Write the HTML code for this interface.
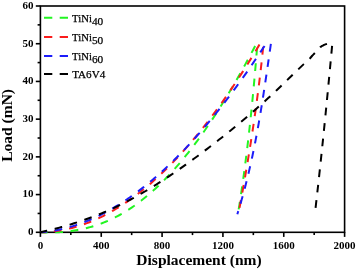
<!DOCTYPE html>
<html><head><meta charset="utf-8"><style>
html,body{margin:0;padding:0;background:#fff;}
svg{display:block;filter:blur(0.35px);}
.tk{font-family:"Liberation Serif",serif;font-weight:bold;font-size:11px;fill:#000;}
.ax{font-family:"Liberation Serif",serif;font-weight:bold;font-size:15.5px;fill:#000;}
.lg{font-family:"Liberation Serif",serif;font-size:10.7px;fill:#000;stroke:#000;stroke-width:0.25px;}
</style></head><body>
<svg width="357" height="270" viewBox="0 0 357 270">
<rect x="40.4" y="6.0" width="304.20" height="226.30" fill="none" stroke="#000" stroke-width="1.6"/>
<path d="M40.40,232.30 L41.95,232.36 L43.51,232.40 L45.06,232.43 L46.61,232.45 L48.17,232.46 L49.72,232.46 L51.27,232.44 L52.83,232.42 L54.38,232.37 L55.93,232.32 L57.49,232.25 L59.04,232.17 L60.59,232.07 L62.15,231.96 L63.70,231.83 L65.25,231.69 L66.81,231.53 L68.36,231.36 L69.91,231.17 L71.46,230.96 L73.02,230.74 L74.57,230.50 L76.12,230.24 L77.68,229.97 L79.23,229.68 L80.78,229.37 L82.34,229.04 L83.89,228.70 L85.44,228.33 L87.00,227.95 L88.55,227.54 L90.10,227.12 L91.66,226.68 L93.21,226.22 L94.76,225.73 L96.32,225.23 L97.87,224.71 L99.42,224.16 L100.98,223.59 L102.53,223.00 L104.08,222.39 L105.64,221.76 L107.19,221.10 L108.74,220.42 L110.30,219.72 L111.85,219.00 L113.40,218.25 L114.96,217.47 L116.51,216.67 L118.06,215.85 L119.62,215.00 L121.17,214.13 L122.72,213.24 L124.27,212.31 L125.83,211.37 L127.38,210.40 L128.93,209.40 L130.49,208.38 L132.04,207.33 L133.59,206.26 L135.15,205.17 L136.70,204.05 L138.25,202.90 L139.81,201.73 L141.36,200.53 L142.91,199.31 L144.47,198.07 L146.02,196.80 L147.57,195.50 L149.13,194.18 L150.68,192.84 L152.23,191.47 L153.79,190.07 L155.34,188.65 L156.89,187.21 L158.45,185.74 L160.00,184.24 L161.55,182.72 L163.11,181.18 L164.66,179.61 L166.21,178.01 L167.77,176.39 L169.32,174.74 L170.87,173.07 L172.43,171.38 L173.98,169.66 L175.53,167.91 L177.08,166.14 L178.64,164.34 L180.19,162.52 L181.74,160.68 L183.30,158.81 L184.85,156.91 L186.40,154.99 L187.96,153.05 L189.51,151.07 L191.06,149.08 L192.62,147.06 L194.17,145.02 L195.72,142.95 L197.28,140.86 L198.83,138.74 L200.38,136.60 L201.94,134.43 L203.49,132.24 L205.04,130.03 L206.60,127.79 L208.15,125.52 L209.70,123.24 L211.26,120.93 L212.81,118.59 L214.36,116.23 L215.92,113.85 L217.47,111.44 L219.02,109.01 L220.58,106.56 L222.13,104.08 L223.68,101.58 L225.24,99.06 L226.79,96.51 L228.34,93.94 L229.89,91.35 L231.45,88.73 L233.00,86.09 L234.55,83.42 L236.11,80.73 L237.66,78.02 L239.21,75.29 L240.77,72.53 L242.32,69.75 L243.87,66.95 L245.43,64.13 L246.98,61.28 L248.53,58.41 L250.09,55.51 L251.64,52.60 L253.19,49.66 L254.75,46.70 L256.30,43.72 L257.40,43.72 L257.23,45.82 L257.07,47.91 L256.90,50.01 L256.73,52.11 L256.55,54.21 L256.38,56.31 L256.21,58.41 L256.03,60.50 L255.85,62.60 L255.68,64.70 L255.50,66.80 L255.32,68.90 L255.13,71.00 L254.95,73.10 L254.76,75.19 L254.58,77.29 L254.39,79.39 L254.20,81.49 L254.01,83.59 L253.82,85.69 L253.62,87.79 L253.42,89.88 L253.23,91.98 L253.03,94.08 L252.83,96.18 L252.62,98.28 L252.42,100.38 L252.21,102.48 L252.00,104.57 L251.79,106.67 L251.58,108.77 L251.37,110.87 L251.15,112.97 L250.93,115.07 L250.71,117.16 L250.49,119.26 L250.27,121.36 L250.04,123.46 L249.81,125.56 L249.58,127.66 L249.35,129.76 L249.11,131.85 L248.88,133.95 L248.64,136.05 L248.40,138.15 L248.15,140.25 L247.91,142.35 L247.66,144.45 L247.41,146.54 L247.16,148.64 L246.90,150.74 L246.64,152.84 L246.38,154.94 L246.12,157.04 L245.85,159.14 L245.59,161.23 L245.32,163.33 L245.04,165.43 L244.77,167.53 L244.49,169.63 L244.21,171.73 L243.93,173.83 L243.64,175.92 L243.35,178.02 L243.06,180.12 L242.76,182.22 L242.47,184.32 L242.17,186.42 L241.86,188.51 L241.56,190.61 L241.25,192.71 L240.93,194.81 L240.62,196.91 L240.30,199.01 L239.98,201.11 L239.66,203.20 L239.33,205.30 L239.00,207.40 L238.66,209.50" fill="none" stroke="#22f522" stroke-width="2.0" stroke-dasharray="7.75 7.75" stroke-dashoffset="0.7" stroke-linejoin="round"/>
<path d="M40.40,232.30 L41.98,232.26 L43.56,232.21 L45.14,232.14 L46.72,232.05 L48.30,231.93 L49.88,231.80 L51.46,231.65 L53.04,231.48 L54.62,231.29 L56.20,231.08 L57.78,230.85 L59.36,230.61 L60.94,230.34 L62.52,230.05 L64.10,229.74 L65.68,229.42 L67.26,229.07 L68.84,228.71 L70.42,228.32 L72.00,227.92 L73.58,227.49 L75.16,227.05 L76.74,226.59 L78.32,226.11 L79.90,225.61 L81.48,225.09 L83.06,224.55 L84.64,223.99 L86.22,223.41 L87.80,222.81 L89.38,222.20 L90.96,221.56 L92.54,220.90 L94.12,220.23 L95.69,219.53 L97.27,218.82 L98.85,218.09 L100.43,217.34 L102.01,216.57 L103.59,215.77 L105.17,214.97 L106.75,214.14 L108.33,213.29 L109.91,212.42 L111.49,211.53 L113.07,210.63 L114.65,209.70 L116.23,208.76 L117.81,207.80 L119.39,206.81 L120.97,205.81 L122.55,204.79 L124.13,203.75 L125.71,202.69 L127.29,201.62 L128.87,200.52 L130.45,199.40 L132.03,198.27 L133.61,197.11 L135.19,195.94 L136.77,194.75 L138.35,193.53 L139.93,192.30 L141.51,191.05 L143.09,189.79 L144.67,188.50 L146.25,187.19 L147.83,185.87 L149.41,184.52 L150.99,183.16 L152.57,181.77 L154.15,180.37 L155.73,178.95 L157.31,177.51 L158.89,176.05 L160.47,174.58 L162.05,173.08 L163.63,171.56 L165.21,170.03 L166.79,168.48 L168.37,166.91 L169.95,165.32 L171.53,163.71 L173.11,162.08 L174.69,160.43 L176.27,158.76 L177.85,157.08 L179.43,155.37 L181.01,153.65 L182.59,151.91 L184.17,150.15 L185.75,148.37 L187.33,146.57 L188.91,144.76 L190.49,142.92 L192.07,141.07 L193.65,139.19 L195.23,137.30 L196.81,135.39 L198.39,133.46 L199.97,131.51 L201.55,129.55 L203.13,127.56 L204.71,125.56 L206.28,123.54 L207.86,121.49 L209.44,119.43 L211.02,117.36 L212.60,115.26 L214.18,113.14 L215.76,111.01 L217.34,108.86 L218.92,106.68 L220.50,104.49 L222.08,102.28 L223.66,100.06 L225.24,97.81 L226.82,95.55 L228.40,93.26 L229.98,90.96 L231.56,88.64 L233.14,86.30 L234.72,83.94 L236.30,81.57 L237.88,79.17 L239.46,76.76 L241.04,74.33 L242.62,71.88 L244.20,69.41 L245.78,66.92 L247.36,64.42 L248.94,61.90 L250.52,59.35 L252.10,56.79 L253.68,54.21 L255.26,51.62 L256.84,49.00 L258.42,46.37 L260.00,43.72 L263.50,43.72 L263.30,45.80 L263.09,47.89 L262.88,49.97 L262.66,52.06 L262.45,54.15 L262.23,56.23 L262.00,58.32 L261.78,60.40 L261.55,62.49 L261.32,64.58 L261.08,66.66 L260.85,68.75 L260.61,70.83 L260.36,72.92 L260.12,75.00 L259.87,77.09 L259.62,79.18 L259.36,81.26 L259.11,83.35 L258.85,85.43 L258.59,87.52 L258.32,89.61 L258.05,91.69 L257.78,93.78 L257.51,95.86 L257.24,97.95 L256.96,100.04 L256.68,102.12 L256.39,104.21 L256.11,106.29 L255.82,108.38 L255.53,110.46 L255.24,112.55 L254.94,114.64 L254.64,116.72 L254.34,118.81 L254.04,120.89 L253.74,122.98 L253.43,125.07 L253.12,127.15 L252.81,129.24 L252.49,131.32 L252.18,133.41 L251.86,135.49 L251.54,137.58 L251.21,139.67 L250.89,141.75 L250.56,143.84 L250.23,145.92 L249.90,148.01 L249.56,150.10 L249.22,152.18 L248.89,154.27 L248.54,156.35 L248.20,158.44 L247.86,160.53 L247.51,162.61 L247.16,164.70 L246.81,166.78 L246.46,168.87 L246.10,170.95 L245.74,173.04 L245.39,175.13 L245.02,177.21 L244.66,179.30 L244.30,181.38 L243.93,183.47 L243.56,185.56 L243.19,187.64 L242.82,189.73 L242.45,191.81 L242.07,193.90 L241.69,195.98 L241.31,198.07 L240.93,200.16 L240.55,202.24 L240.17,204.33 L239.78,206.41 L239.39,208.50" fill="none" stroke="#fa1c1c" stroke-width="2.0" stroke-dasharray="7.75 7.75" stroke-dashoffset="2.0" stroke-linejoin="round"/>
<path d="M40.40,232.30 L42.02,232.17 L43.65,232.02 L45.27,231.86 L46.89,231.67 L48.52,231.47 L50.14,231.24 L51.76,231.00 L53.38,230.74 L55.01,230.46 L56.63,230.16 L58.25,229.84 L59.88,229.50 L61.50,229.14 L63.12,228.77 L64.75,228.37 L66.37,227.96 L67.99,227.53 L69.61,227.07 L71.24,226.60 L72.86,226.12 L74.48,225.61 L76.11,225.08 L77.73,224.54 L79.35,223.98 L80.98,223.39 L82.60,222.79 L84.22,222.18 L85.84,221.54 L87.47,220.88 L89.09,220.21 L90.71,219.52 L92.34,218.81 L93.96,218.08 L95.58,217.33 L97.21,216.57 L98.83,215.78 L100.45,214.98 L102.07,214.16 L103.70,213.33 L105.32,212.47 L106.94,211.60 L108.57,210.70 L110.19,209.80 L111.81,208.87 L113.44,207.92 L115.06,206.96 L116.68,205.98 L118.31,204.98 L119.93,203.96 L121.55,202.93 L123.17,201.88 L124.80,200.81 L126.42,199.72 L128.04,198.61 L129.67,197.49 L131.29,196.35 L132.91,195.19 L134.54,194.02 L136.16,192.83 L137.78,191.62 L139.40,190.39 L141.03,189.14 L142.65,187.88 L144.27,186.60 L145.90,185.31 L147.52,183.99 L149.14,182.66 L150.77,181.31 L152.39,179.95 L154.01,178.56 L155.63,177.17 L157.26,175.75 L158.88,174.32 L160.50,172.86 L162.13,171.40 L163.75,169.91 L165.37,168.41 L167.00,166.89 L168.62,165.36 L170.24,163.81 L171.86,162.24 L173.49,160.65 L175.11,159.05 L176.73,157.43 L178.36,155.80 L179.98,154.15 L181.60,152.48 L183.23,150.79 L184.85,149.09 L186.47,147.38 L188.09,145.64 L189.72,143.89 L191.34,142.12 L192.96,140.34 L194.59,138.54 L196.21,136.73 L197.83,134.89 L199.46,133.05 L201.08,131.18 L202.70,129.30 L204.33,127.41 L205.95,125.49 L207.57,123.56 L209.19,121.62 L210.82,119.66 L212.44,117.68 L214.06,115.69 L215.69,113.68 L217.31,111.66 L218.93,109.62 L220.56,107.56 L222.18,105.49 L223.80,103.40 L225.42,101.30 L227.05,99.18 L228.67,97.05 L230.29,94.90 L231.92,92.73 L233.54,90.55 L235.16,88.35 L236.79,86.14 L238.41,83.92 L240.03,81.67 L241.65,79.41 L243.28,77.14 L244.90,74.85 L246.52,72.55 L248.15,70.23 L249.77,67.89 L251.39,65.54 L253.02,63.18 L254.64,60.80 L256.26,58.40 L257.88,55.99 L259.51,53.57 L261.13,51.13 L262.75,48.67 L264.38,46.20 L266.00,43.72 L270.90,43.72 L270.59,45.87 L270.28,48.03 L269.97,50.19 L269.66,52.35 L269.35,54.51 L269.04,56.66 L268.73,58.82 L268.41,60.98 L268.10,63.14 L267.79,65.30 L267.48,67.45 L267.16,69.61 L266.85,71.77 L266.53,73.93 L266.22,76.09 L265.90,78.24 L265.58,80.40 L265.26,82.56 L264.94,84.72 L264.61,86.88 L264.28,89.04 L263.95,91.19 L263.62,93.35 L263.29,95.51 L262.95,97.67 L262.61,99.83 L262.27,101.98 L261.93,104.14 L261.58,106.30 L261.23,108.46 L260.87,110.62 L260.51,112.77 L260.15,114.93 L259.79,117.09 L259.42,119.25 L259.04,121.41 L258.67,123.56 L258.28,125.72 L257.90,127.88 L257.51,130.04 L257.11,132.20 L256.71,134.35 L256.31,136.51 L255.90,138.67 L255.48,140.83 L255.06,142.99 L254.63,145.14 L254.20,147.30 L253.76,149.46 L253.32,151.62 L252.87,153.78 L252.42,155.93 L251.96,158.09 L251.49,160.25 L251.01,162.41 L250.53,164.57 L250.04,166.72 L249.55,168.88 L249.05,171.04 L248.54,173.20 L248.02,175.36 L247.50,177.51 L246.97,179.67 L246.43,181.83 L245.88,183.99 L245.33,186.15 L244.76,188.30 L244.19,190.46 L243.61,192.62 L243.03,194.78 L242.43,196.94 L241.82,199.09 L241.21,201.25 L240.59,203.41 L239.96,205.57 L239.31,207.73 L238.66,209.88 L238.00,212.04 L237.33,214.20" fill="none" stroke="#1c1cfa" stroke-width="2.0" stroke-dasharray="7.75 7.75" stroke-dashoffset="1.2" stroke-linejoin="round"/>
<path d="M40.40,232.30 L42.51,231.82 L44.61,231.33 L46.72,230.84 L48.83,230.33 L50.93,229.81 L53.04,229.28 L55.15,228.74 L57.26,228.18 L59.36,227.62 L61.47,227.04 L63.58,226.45 L65.68,225.84 L67.79,225.23 L69.90,224.60 L72.00,223.95 L74.11,223.30 L76.22,222.62 L78.33,221.94 L80.43,221.24 L82.54,220.52 L84.65,219.79 L86.75,219.04 L88.86,218.28 L90.97,217.50 L93.07,216.71 L95.18,215.90 L97.29,215.07 L99.40,214.22 L101.50,213.36 L103.61,212.48 L105.72,211.58 L107.82,210.67 L109.93,209.73 L112.04,208.78 L114.14,207.81 L116.25,206.81 L118.36,205.80 L120.47,204.77 L122.57,203.72 L124.68,202.65 L126.79,201.57 L128.89,200.46 L131.00,199.34 L133.11,198.20 L135.21,197.04 L137.32,195.86 L139.43,194.67 L141.53,193.46 L143.64,192.23 L145.75,190.99 L147.86,189.73 L149.96,188.46 L152.07,187.17 L154.18,185.87 L156.28,184.55 L158.39,183.21 L160.50,181.86 L162.60,180.50 L164.71,179.12 L166.82,177.73 L168.93,176.33 L171.03,174.92 L173.14,173.49 L175.25,172.05 L177.35,170.59 L179.46,169.13 L181.57,167.65 L183.67,166.16 L185.78,164.66 L187.89,163.15 L190.00,161.63 L192.10,160.09 L194.21,158.55 L196.32,157.00 L198.42,155.44 L200.53,153.87 L202.64,152.29 L204.74,150.70 L206.85,149.10 L208.96,147.49 L211.07,145.88 L213.17,144.26 L215.28,142.62 L217.39,140.98 L219.49,139.33 L221.60,137.67 L223.71,136.01 L225.81,134.33 L227.92,132.64 L230.03,130.94 L232.13,129.23 L234.24,127.51 L236.35,125.78 L238.46,124.03 L240.56,122.28 L242.67,120.51 L244.78,118.74 L246.88,116.95 L248.99,115.14 L251.10,113.33 L253.20,111.50 L255.31,109.66 L257.42,107.81 L259.53,105.94 L261.63,104.06 L263.74,102.16 L265.85,100.26 L267.95,98.33 L270.06,96.39 L272.17,94.44 L274.27,92.47 L276.38,90.49 L278.49,88.49 L280.60,86.48 L282.70,84.45 L284.81,82.41 L286.92,80.37 L289.02,78.32 L291.13,76.27 L293.24,74.22 L295.34,72.18 L297.45,70.14 L299.56,68.11 L301.67,66.10 L303.77,64.10 L305.88,62.13 L307.99,60.17 L310.09,58.24 L312.20,55.75 L312.86,55.09 L313.52,54.42 L314.18,53.74 L314.84,53.05 L315.50,52.36 L316.17,51.65 L316.83,50.93 L317.49,50.22 L318.15,49.49 L318.81,48.71 L319.47,47.97 L320.13,47.32 L320.79,46.81 L321.45,46.36 L322.11,45.96 L322.77,45.60 L323.43,45.27 L324.10,44.96 L324.76,44.67 L325.42,44.40 L326.08,44.14 L326.74,43.92 L327.40,43.72 L332.40,43.72 L332.11,45.81 L331.91,47.90 L331.72,49.99 L331.52,52.09 L331.33,54.18 L331.13,56.27 L330.94,58.36 L330.74,60.45 L330.54,62.55 L330.35,64.64 L330.15,66.73 L329.95,68.82 L329.76,70.92 L329.56,73.01 L329.36,75.10 L329.16,77.19 L328.96,79.28 L328.76,81.38 L328.56,83.47 L328.36,85.56 L328.16,87.65 L327.96,89.74 L327.75,91.84 L327.55,93.93 L327.35,96.02 L327.14,98.11 L326.94,100.21 L326.74,102.30 L326.53,104.39 L326.32,106.48 L326.12,108.57 L325.91,110.67 L325.70,112.76 L325.50,114.85 L325.29,116.94 L325.08,119.04 L324.87,121.13 L324.66,123.22 L324.45,125.31 L324.24,127.40 L324.03,129.50 L323.81,131.59 L323.60,133.68 L323.39,135.77 L323.17,137.87 L322.96,139.96 L322.74,142.05 L322.52,144.14 L322.31,146.23 L322.09,148.33 L321.87,150.42 L321.65,152.51 L321.43,154.60 L321.21,156.70 L320.99,158.79 L320.77,160.88 L320.54,162.97 L320.32,165.06 L320.10,167.16 L319.87,169.25 L319.65,171.34 L319.42,173.43 L319.19,175.52 L318.96,177.62 L318.73,179.71 L318.50,181.80 L318.27,183.89 L318.04,185.99 L317.81,188.08 L317.58,190.17 L317.34,192.26 L317.11,194.35 L316.87,196.45 L316.63,198.54 L316.40,200.63 L316.16,202.72 L315.92,204.82 L315.68,206.91 L315.44,209.00" fill="none" stroke="#000000" stroke-width="2.0" stroke-dasharray="7.75 7.75" stroke-dashoffset="0.8" stroke-linejoin="round"/>
<line x1="40.40" y1="232.3" x2="40.40" y2="236.90" stroke="#000" stroke-width="1.6"/>
<text x="40.40" y="248.6" class="tk" text-anchor="middle">0</text>
<line x1="70.82" y1="232.3" x2="70.82" y2="235.10" stroke="#000" stroke-width="1.6"/>
<line x1="101.24" y1="232.3" x2="101.24" y2="236.90" stroke="#000" stroke-width="1.6"/>
<text x="101.24" y="248.6" class="tk" text-anchor="middle">400</text>
<line x1="131.66" y1="232.3" x2="131.66" y2="235.10" stroke="#000" stroke-width="1.6"/>
<line x1="162.08" y1="232.3" x2="162.08" y2="236.90" stroke="#000" stroke-width="1.6"/>
<text x="162.08" y="248.6" class="tk" text-anchor="middle">800</text>
<line x1="192.50" y1="232.3" x2="192.50" y2="235.10" stroke="#000" stroke-width="1.6"/>
<line x1="222.92" y1="232.3" x2="222.92" y2="236.90" stroke="#000" stroke-width="1.6"/>
<text x="222.92" y="248.6" class="tk" text-anchor="middle">1200</text>
<line x1="253.34" y1="232.3" x2="253.34" y2="235.10" stroke="#000" stroke-width="1.6"/>
<line x1="283.76" y1="232.3" x2="283.76" y2="236.90" stroke="#000" stroke-width="1.6"/>
<text x="283.76" y="248.6" class="tk" text-anchor="middle">1600</text>
<line x1="314.18" y1="232.3" x2="314.18" y2="235.10" stroke="#000" stroke-width="1.6"/>
<line x1="344.60" y1="232.3" x2="344.60" y2="236.90" stroke="#000" stroke-width="1.6"/>
<text x="344.60" y="248.6" class="tk" text-anchor="middle">2000</text>
<line x1="40.4" y1="232.30" x2="35.80" y2="232.30" stroke="#000" stroke-width="1.6"/>
<text x="33.6" y="235.20" class="tk" text-anchor="end">0</text>
<line x1="40.4" y1="213.44" x2="37.60" y2="213.44" stroke="#000" stroke-width="1.6"/>
<line x1="40.4" y1="194.58" x2="35.80" y2="194.58" stroke="#000" stroke-width="1.6"/>
<text x="33.6" y="197.48" class="tk" text-anchor="end">10</text>
<line x1="40.4" y1="175.73" x2="37.60" y2="175.73" stroke="#000" stroke-width="1.6"/>
<line x1="40.4" y1="156.87" x2="35.80" y2="156.87" stroke="#000" stroke-width="1.6"/>
<text x="33.6" y="159.77" class="tk" text-anchor="end">20</text>
<line x1="40.4" y1="138.01" x2="37.60" y2="138.01" stroke="#000" stroke-width="1.6"/>
<line x1="40.4" y1="119.15" x2="35.80" y2="119.15" stroke="#000" stroke-width="1.6"/>
<text x="33.6" y="122.05" class="tk" text-anchor="end">30</text>
<line x1="40.4" y1="100.29" x2="37.60" y2="100.29" stroke="#000" stroke-width="1.6"/>
<line x1="40.4" y1="81.43" x2="35.80" y2="81.43" stroke="#000" stroke-width="1.6"/>
<text x="33.6" y="84.33" class="tk" text-anchor="end">40</text>
<line x1="40.4" y1="62.58" x2="37.60" y2="62.58" stroke="#000" stroke-width="1.6"/>
<line x1="40.4" y1="43.72" x2="35.80" y2="43.72" stroke="#000" stroke-width="1.6"/>
<text x="33.6" y="46.62" class="tk" text-anchor="end">50</text>
<line x1="40.4" y1="24.86" x2="37.60" y2="24.86" stroke="#000" stroke-width="1.6"/>
<line x1="40.4" y1="6.00" x2="35.80" y2="6.00" stroke="#000" stroke-width="1.6"/>
<text x="33.6" y="8.90" class="tk" text-anchor="end">60</text>
<text x="199" y="264.6" class="ax" text-anchor="middle">Displacement (nm)</text>
<text transform="translate(12.4,125.4) rotate(-90)" class="ax" text-anchor="middle">Load (mN)</text>
<line x1="44" y1="17.8" x2="68" y2="17.8" stroke="#22f522" stroke-width="2.0" stroke-dasharray="8.3 7.4"/>
<text x="72.1" y="21.7" class="lg">TiNi<tspan dy="3.3" style="font-size:11.3px">40</tspan></text>
<line x1="44" y1="37.1" x2="68" y2="37.1" stroke="#fa1c1c" stroke-width="2.0" stroke-dasharray="8.3 7.4"/>
<text x="72.1" y="41.0" class="lg">TiNi<tspan dy="3.3" style="font-size:11.3px">50</tspan></text>
<line x1="44" y1="56.1" x2="68" y2="56.1" stroke="#1c1cfa" stroke-width="2.0" stroke-dasharray="8.3 7.4"/>
<text x="72.1" y="60.0" class="lg">TiNi<tspan dy="3.3" style="font-size:11.3px">60</tspan></text>
<line x1="44" y1="74.0" x2="68" y2="74.0" stroke="#000000" stroke-width="2.0" stroke-dasharray="8.3 7.4"/>
<text x="72.2" y="78.2" class="lg" style="font-size:11.1px">TA6V4</text>
</svg>
</body></html>
